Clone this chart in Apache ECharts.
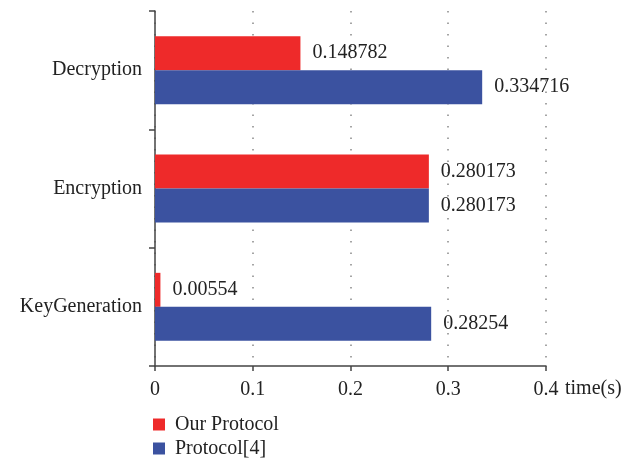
<!DOCTYPE html>
<html>
<head>
<meta charset="utf-8">
<script src="https://cdn.jsdelivr.net/npm/echarts@6/dist/echarts.min.js"></script>
<style>html,body{margin:0;padding:0;background:#fff;}#c{width:640px;height:463px;}</style>
</head>
<body>
<div id="c"></div>
<script>
const categories = ['KeyGeneration', 'Encryption', 'Decryption'];
const ourProtocol = [0.00554, 0.280173, 0.148782];
const protocol4 = [0.28254, 0.280173, 0.334716];
const seriesNames = ['Our Protocol', 'Protocol[4]'];
const xTicks = [0, 0.1, 0.2, 0.3, 0.4];

const FONT = '"Liberation Serif", "DejaVu Serif", serif';
const FS = 20;
const chart = echarts.init(document.getElementById('c'));
const labelCfg = {
  show: true, position: 'right', distance: 12,
  fontFamily: FONT, fontSize: FS, color: '#222',
  formatter: p => String(p.value)
};
chart.setOption({
  animation: false,
  textStyle: { fontFamily: FONT },
  grid: { left: 155, right: 94, top: 11, bottom: 97 },
  legend: {
    data: seriesNames,
    orient: 'vertical', left: 153, top: 414, padding: 0,
    itemWidth: 12, itemHeight: 12, itemGap: 3,
    icon: 'rect',
    textStyle: { fontFamily: FONT, fontSize: FS, color: '#222', lineHeight: 21, padding: [0, 0, 0, 5] }
  },
  xAxis: {
    type: 'value', min: xTicks[0], max: xTicks[xTicks.length - 1], interval: 0.1,
    name: 'time(s)', nameLocation: 'end', nameGap: 19,
    nameTextStyle: { fontFamily: FONT, fontSize: FS, color: '#222', verticalAlign: 'top', padding: [13, 0, 0, 0] },
    axisLine: { show: true, lineStyle: { color: '#444', width: 1.5 } },
    axisTick: { show: true, length: 5, lineStyle: { color: '#444', width: 1.5 } },
    axisLabel: { fontFamily: FONT, fontSize: FS, color: '#222', margin: 14 },
    splitLine: { show: true, lineStyle: { color: '#888', type: [1.5, 10], width: 1.5 } }
  },
  yAxis: {
    type: 'category', data: categories,
    axisLine: { show: true, lineStyle: { color: '#444', width: 1.5 } },
    axisTick: { show: true, length: 6, lineStyle: { color: '#444', width: 1.5 } },
    axisLabel: { fontFamily: FONT, fontSize: FS, color: '#222', margin: 13 },
    splitLine: { show: false }
  },
  series: [
    { name: seriesNames[0], type: 'bar', data: ourProtocol, barWidth: 34, barGap: '0%',
      itemStyle: { color: '#EE2A2A' }, label: labelCfg },
    { name: seriesNames[1], type: 'bar', data: protocol4, barWidth: 34, barGap: '0%',
      itemStyle: { color: '#3B52A0' }, label: labelCfg }
  ]
});
</script>
</body>
</html>
